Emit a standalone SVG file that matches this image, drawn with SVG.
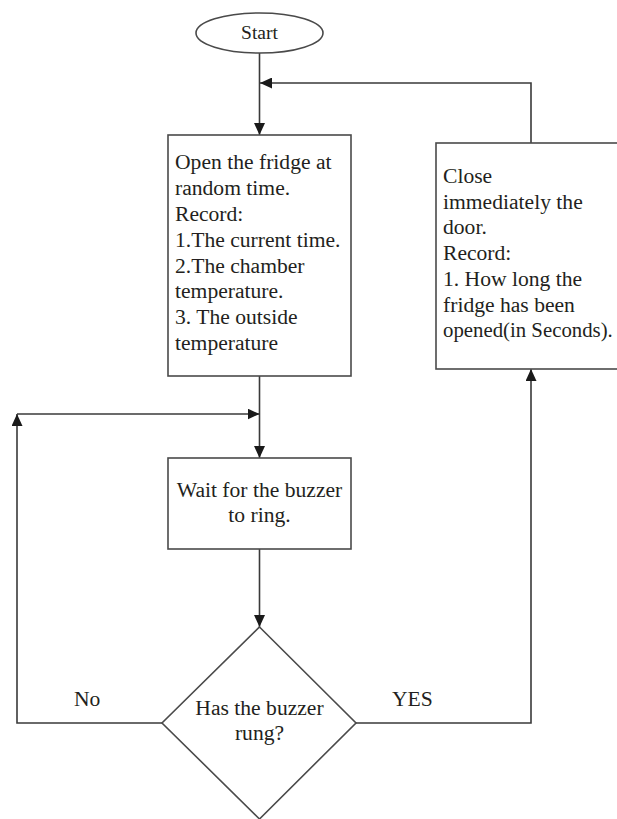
<svg xmlns="http://www.w3.org/2000/svg" width="617" height="819" viewBox="0 0 617 819">
<style>
.shape{fill:#ffffff;stroke:#4a4a4a;stroke-width:1.6}
.conn{fill:none;stroke:#3a3a3a;stroke-width:1.6}
.t{font-family:"Liberation Serif","Times New Roman",serif;font-size:21.6px;fill:#231f20}
.c{text-anchor:middle}
</style>
<defs>
<marker id="arr" viewBox="0 0 12 11" refX="12" refY="5.5" markerWidth="12" markerHeight="11" markerUnits="userSpaceOnUse" orient="auto">
<path d="M0,0 L12,5.5 L0,11 Z" fill="#1a1a1a"/>
</marker>
</defs>
<g id="connectors">
<path class="conn" d="M259.5,53 L259.5,135" marker-end="url(#arr)"/>
<path class="conn" d="M531,143 L531,83 L260,83" marker-end="url(#arr)"/>
<path class="conn" d="M259.5,376 L259.5,458" marker-end="url(#arr)"/>
<path class="conn" d="M259.5,549 L259.5,627" marker-end="url(#arr)"/>
<path class="conn" d="M162,723 L17,723 L17,414" marker-end="url(#arr)"/>
<path class="conn" d="M17,414 L259.5,414" marker-end="url(#arr)"/>
<path class="conn" d="M356,723 L531,723 L531,369" marker-end="url(#arr)"/>
</g>
<g id="start">
<ellipse class="shape" cx="259.5" cy="33" rx="63.5" ry="20"/>
<text class="t c" x="259.5" y="39" style="font-size:19.5px">Start</text>
</g>
<g id="open-fridge">
<rect class="shape" x="168" y="135" width="183" height="241"/>
<text class="t" x="175" y="169">Open the fridge at</text>
<text class="t" x="175" y="195">random time.</text>
<text class="t" x="175" y="221">Record:</text>
<text class="t" x="175" y="247">1.The current time.</text>
<text class="t" x="175" y="273">2.The chamber</text>
<text class="t" x="175" y="298">temperature.</text>
<text class="t" x="175" y="324">3. The outside</text>
<text class="t" x="175" y="350">temperature</text>
</g>
<g id="close-door">
<rect class="shape" x="436" y="143" width="186" height="226"/>
<text class="t" x="443" y="183">Close</text>
<text class="t" x="443" y="209">immediately the</text>
<text class="t" x="443" y="234">door.</text>
<text class="t" x="443" y="260">Record:</text>
<text class="t" x="443" y="286">1. How long the</text>
<text class="t" x="443" y="312">fridge has been</text>
<text class="t" x="443" y="337" style="font-size:20.8px">opened(in Seconds).</text>
</g>
<g id="wait-buzzer">
<rect class="shape" x="168" y="458" width="183" height="91"/>
<text class="t c" x="259.5" y="497">Wait for the buzzer</text>
<text class="t c" x="259.5" y="522">to ring.</text>
</g>
<g id="buzzer-decision">
<polygon class="shape" points="259.5,627 356,723 259.5,819 162,723"/>
<text class="t c" x="259.5" y="715">Has the buzzer</text>
<text class="t c" x="259.5" y="740">rung?</text>
</g>
<g id="labels">
<text class="t" x="74" y="706">No</text>
<text class="t" x="392" y="706">YES</text>
</g>
</svg>
